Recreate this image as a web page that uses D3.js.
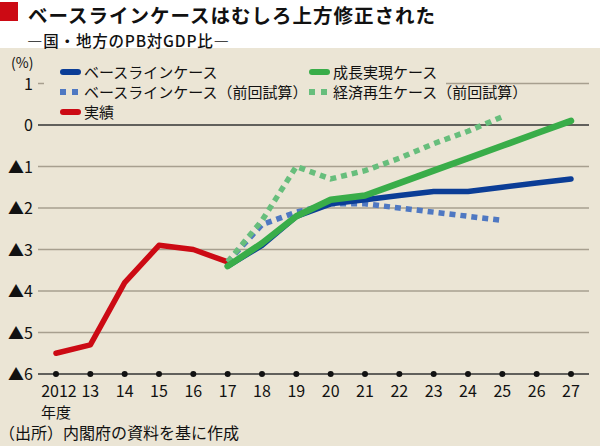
<!DOCTYPE html>
<html><head><meta charset="utf-8">
<script src="https://cdn.jsdelivr.net/npm/d3@7"></script>
<style>
html,body{margin:0;padding:0;background:#fff;}
svg{display:block;font-family:"Noto Sans CJK JP","Noto Sans",sans-serif;}
</style></head>
<body><svg id="c" width="600" height="446"></svg>
<script>
const years = [2012,2013,2014,2015,2016,2017,2018,2019,2020,2021,2022,2023,2024,2025,2026,2027];
const xTickLabels = ["2012","13","14","15","16","17","18","19","20","21","22","23","24","25","26","27"];
const yTicks = [1,0,-1,-2,-3,-4,-5,-6];
const yTickLabels = ["1","0","▲1","▲2","▲3","▲4","▲5","▲6"];

const actualYears = [2012,2013,2014,2015,2016,2017];
const actual = [-5.5,-5.3,-3.8,-2.9,-3.0,-3.3];

const caseYears = [2017,2018,2019,2020,2021,2022,2023,2024,2025,2026,2027];
const baseline = [-3.4,-2.9,-2.2,-1.9,-1.8,-1.7,-1.6,-1.6,-1.5,-1.4,-1.3];
const growth = [-3.4,-2.85,-2.2,-1.8,-1.7,-1.4,-1.1,-0.8,-0.5,-0.2,0.1];

const prevYears = [2017,2018,2019,2020,2021,2022,2023,2024,2025];
const baselinePrev = [-3.3,-2.4,-2.1,-1.9,-1.9,-2.0,-2.1,-2.2,-2.3];
const revivalPrev = [-3.3,-2.3,-1.0,-1.3,-1.1,-0.8,-0.45,-0.15,0.2];

const seriesNames = ["ベースラインケース","成長実現ケース","ベースラインケース（前回試算）","経済再生ケース（前回試算）","実績"];

const svg = d3.select("#c");
const W=600,H=446;
const bg="#ebe5d5";
svg.append("rect").attr("x",0).attr("y",0).attr("width",W).attr("height",H).attr("fill","#fff");
svg.append("rect").attr("x",0).attr("y",48).attr("width",W).attr("height",H-48).attr("fill",bg);

// title
svg.append("rect").attr("x",0).attr("y",2).attr("width",18).attr("height",19).attr("fill","#cc0a14");
svg.append("text").attr("x",28).attr("y",23).attr("font-size",19.5).attr("letter-spacing",1).attr("font-weight","bold").attr("fill","#111")
  .text("ベースラインケースはむしろ上方修正された");
svg.append("text").attr("x",27).attr("y",47).attr("font-size",15.5).attr("letter-spacing",0.8).attr("font-weight",500).attr("fill","#111")
  .text("―国・地方のPB対GDP比―");

const x = d3.scaleLinear().domain([2012,2027]).range([56,571]);
const y = d3.scaleLinear().domain([-6,1]).range([374,83.5]);
const gx0=38, gx1=589;

// gridlines
yTicks.forEach((t,i)=>{
  if(t===-6) return;
  svg.append("line").attr("x1",gx0).attr("x2",gx1).attr("y1",y(t)).attr("y2",y(t))
    .attr("stroke", t===0 ? "#333" : "#a79f8f").attr("stroke-width",1.3);
});
// y labels
yTicks.forEach((t,i)=>{
  svg.append("text").attr("x",33).attr("y",y(t)+6).attr("text-anchor","end").attr("font-size",16).attr("fill","#111")
    .text(yTickLabels[i]);
});
svg.append("text").attr("x",11).attr("y",68).attr("font-size",14).attr("fill","#111").text("(%)");

// x axis
svg.append("line").attr("x1",gx0).attr("x2",gx1).attr("y1",y(-6)).attr("y2",y(-6)).attr("stroke","#333").attr("stroke-width",1.3);
years.forEach((yr,i)=>{
  svg.append("circle").attr("cx",x(yr)).attr("cy",y(-6)).attr("r",3).attr("fill","#111");
  svg.append("text").attr("x",x(yr)+(i===0?3:0)).attr("y",397).attr("text-anchor","middle").attr("font-size",16).attr("fill","#111")
    .text(xTickLabels[i]);
});
svg.append("text").attr("x",56).attr("y",418).attr("text-anchor","middle").attr("font-size",15).attr("fill","#111").text("年度");
svg.append("text").attr("x",-1).attr("y",439).attr("font-size",16).attr("fill","#111").text("（出所）内閣府の資料を基に作成");

// legend background (covers gridline at 1)
svg.append("rect").attr("x",44).attr("y",58).attr("width",402).attr("height",66).attr("fill",bg);

const line = d3.line().x(d=>x(d[0])).y(d=>y(d[1])).curve(d3.curveLinear);
function draw(xs, vs, color, width, dash){
  svg.append("path").datum(xs.map((v,i)=>[v,vs[i]])).attr("d",line)
    .attr("fill","none").attr("stroke",color).attr("stroke-width",width)
    .attr("stroke-linejoin","round").attr("stroke-linecap",dash?"butt":"round")
    .attr("stroke-dasharray",dash||null);
}
const cRed="#cc0a14", cBlue="#0b3d96", cGreen="#39ad49", cBlueD="#4f78c2", cGreenD="#67be7c";
draw(actualYears, actual, cRed, 5.5);
draw(prevYears, baselinePrev, cBlueD, 5.5, "6,5");
draw(prevYears, revivalPrev, cGreenD, 5.5, "6,5");
draw(caseYears, baseline, cBlue, 5.5);
draw(caseYears, growth, cGreen, 6.5);

// legend
const legend = [
  {name:seriesNames[0], color:cBlue, dash:false, x:60, y:72},
  {name:seriesNames[1], color:cGreen, dash:false, x:309, y:72},
  {name:seriesNames[2], color:cBlueD, dash:true, x:60, y:92},
  {name:seriesNames[3], color:cGreenD, dash:true, x:309, y:92},
  {name:seriesNames[4], color:cRed, dash:false, x:60, y:112}
];
legend.forEach(l=>{
  if(l.dash){
    svg.append("rect").attr("x",l.x).attr("y",l.y-3).attr("width",6).attr("height",6).attr("fill",l.color);
    svg.append("rect").attr("x",l.x+12).attr("y",l.y-3).attr("width",6).attr("height",6).attr("fill",l.color);
  } else {
    svg.append("line").attr("x1",l.x+3).attr("x2",l.x+18).attr("y1",l.y).attr("y2",l.y)
      .attr("stroke",l.color).attr("stroke-width",6).attr("stroke-linecap","round");
  }
  svg.append("text").attr("x",l.x+24).attr("y",l.y+5.5).attr("font-size",15).attr("fill","#111").text(l.name);
});
</script></body></html>
